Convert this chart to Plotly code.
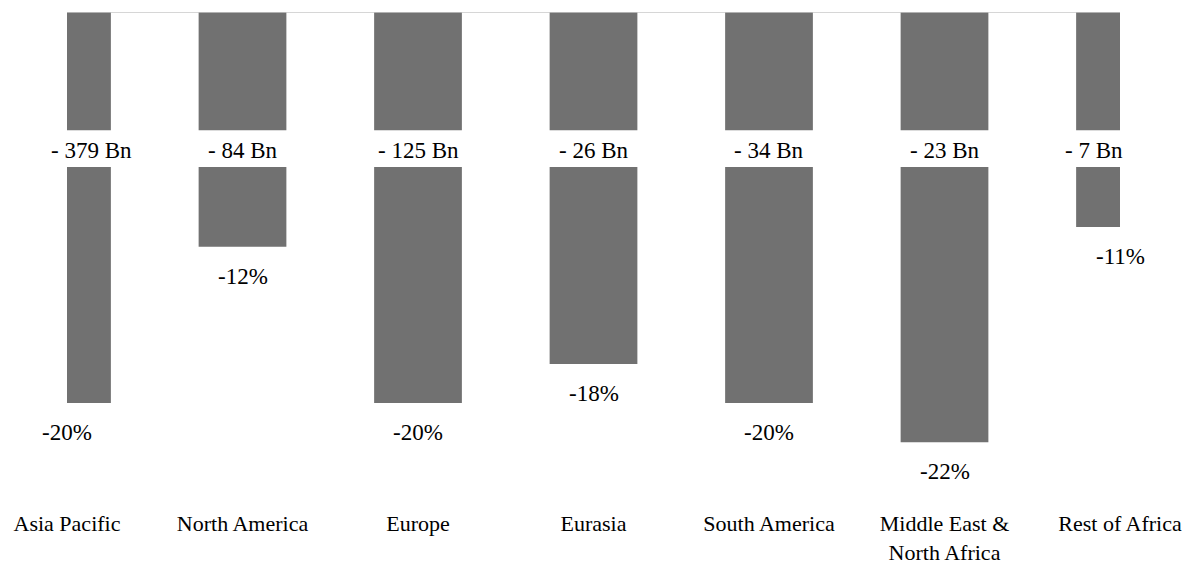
import plotly.graph_objects as go

categories = ["Asia Pacific", "North America", "Europe", "Eurasia", "South America",
              "Middle East &<br>North Africa", "Rest of Africa"]
pct_change = [-20, -12, -20, -18, -20, -22, -11]
bn_labels = ["- 379 Bn", "- 84 Bn", "- 125 Bn", "- 26 Bn", "- 34 Bn", "- 23 Bn", "- 7 Bn"]

FONT = "Liberation Serif, DejaVu Serif, serif"
BAR = "#717171"
xs = list(range(len(categories)))

fig = go.Figure()
fig.add_trace(go.Bar(x=xs, y=pct_change, width=0.5, marker=dict(color=BAR, line=dict(width=0)),
                     hoverinfo="skip"))

# white band across bars where the Bn labels sit
fig.add_shape(type="rect", xref="paper", x0=0, x1=1, yref="y", y0=-6.05, y1=-7.93,
              fillcolor="white", line=dict(width=0), layer="above")
# top axis line
fig.add_shape(type="line", xref="paper", x0=0, x1=1, yref="y", y0=0, y1=0,
              line=dict(color="#c8c8c8", width=1.5), layer="above")

shifts = [24, 0, 0, 0, 0, 0, -26]
for i, (lab, p) in enumerate(zip(bn_labels, pct_change)):
    fig.add_annotation(x=i, y=-7.1, text=lab, showarrow=False, xshift=shifts[i],
                       font=dict(family=FONT, size=23, color="black"), yanchor="middle")
    fig.add_annotation(x=i, y=p, text=f"{p}%", showarrow=False, yanchor="top", yshift=-15,
                       font=dict(family=FONT, size=23, color="black"))

fig.update_layout(
    width=1185, height=556,
    margin=dict(l=59, r=73, t=4, b=53),
    plot_bgcolor="white", paper_bgcolor="white",
    showlegend=False,
    font=dict(family=FONT),
    xaxis=dict(range=[0, 6], tickmode="array", tickvals=xs, ticktext=categories,
               showgrid=False, zeroline=False, showline=False, ticks="", automargin=False,
               ticklabelstandoff=-3,
               tickfont=dict(family=FONT, size=22, color="black")),
    yaxis=dict(range=[-25.52, 0], showgrid=False, zeroline=False, showline=False,
               showticklabels=False, ticks="", automargin=False),
)
fig.write_html("out.html")
